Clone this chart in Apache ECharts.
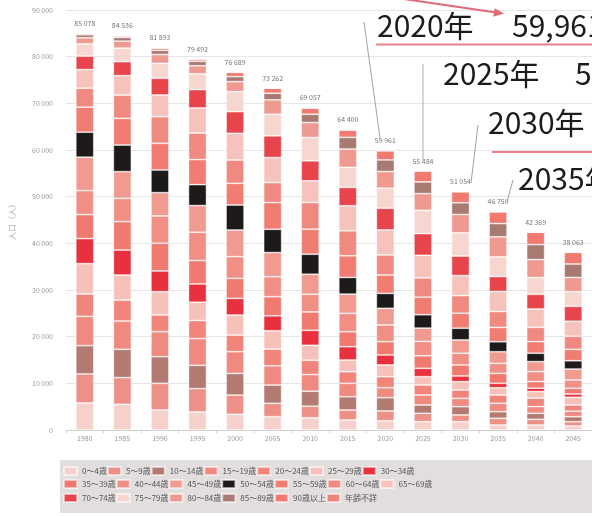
<!DOCTYPE html>
<html><head><meta charset="utf-8">
<script src="https://cdn.jsdelivr.net/npm/echarts@6/dist/echarts.min.js"></script>
<style>html,body{margin:0;padding:0;background:#fff}#c{width:592px;height:516px}</style>
</head><body><div id="c"></div>
<script>
const years = ['1980','1985','1990','1995','2000','2005','2010','2015','2020','2025','2030','2035','2040','2045'];
const ageGroups = ['0～4歳','5～9歳','10～14歳','15～19歳','20～24歳','25～29歳','30～34歳',
  '35～39歳','40～44歳','45～49歳','50～54歳','55～59歳','60～64歳','65～69歳',
  '70～74歳','75～79歳','80～84歳','85～89歳','90歳以上','年齢不詳'];
const totals = [85078, 84536, 81893, 79492, 76689, 73262, 69057, 64400, 59961, 55484, 51054, 46750, 42369, 38063];
const yTicks = [0,10000,20000,30000,40000,50000,60000,70000,80000,90000];

const age0_4   = [5800, 5510, 4290, 3880, 3360, 2850, 2610, 2140, 1980, 1780, 1780, 1070, 1070, 860];
const age5_9   = [6210, 5720, 5720, 4990, 4119, 2870, 2490, 2140, 2100, 1800, 1440, 1440, 1220, 920];
const age10_14 = [6060, 6060, 5700, 4990, 4650, 3920, 3210, 2850, 2850, 1780, 1780, 1410, 1290, 1070];
const age15_19 = [6280, 6060, 5360, 5720, 4650, 4120, 3580, 2870, 2140, 2140, 1780, 1800, 1440, 1180];
const age20_24 = [4800, 4490, 3580, 3880, 3560, 3580, 3050, 2490, 2361, 2140, 1800, 1780, 1800, 1330];
const age25_29 = [6500, 5360, 4990, 3920, 4290, 3920, 3210, 2510, 2510, 1780, 1780, 1560, 1410, 1650];
const age30_34 = [5360, 5360, 4440, 3920, 3580, 3210, 3210, 2850, 2140, 1800, 1220, 940, 730, 710];
const age35_39 = [5150, 6090, 5940, 5010, 4290, 4090, 3940, 3210, 2850, 2690, 2360, 2140, 1410, 1220];
const age40_44 = [5140, 4990, 5850, 6060, 4650, 4290, 3787, 3940, 3580, 3070, 2510, 2140, 2140, 1780];
const age45_49 = [7160, 5720, 4990, 5720, 5700, 5170, 4290, 4120, 3560, 2850, 2850, 2490, 2140, 2340];
const age50_54 = [5360, 5700, 4860, 4490, 5360, 4990, 4290, 3580, 3210, 2870, 2510, 2140, 1800, 1780];
const age55_59 = [5360, 5720, 5720, 5360, 4650, 5720, 5360, 4630, 3940, 3760, 3210, 3070, 2490, 2440];
const age60_64 = [4070, 4990, 5700, 5700, 4990, 4290, 5720, 5360, 4290, 4140, 3780, 3410, 3070, 2810];
const age65_69 = [3990, 4160, 4650, 5360, 5720, 5360, 4650, 5360, 5360, 4830, 4290, 4290, 3920, 3210];
const age70_74 = [2870, 3000, 3580, 3940, 4650, 4650, 4290, 3940, 4650, 4650, 4184, 3210, 3150, 3210];
const age75_79 = [2640, 2900, 3193, 3402, 4290, 4630, 4990, 4290, 4290, 4990, 4990, 4210, 3580, 3143];
const age80_84 = [1300, 1500, 1900, 1710, 2140, 3090, 3210, 3920, 3580, 3580, 3920, 4290, 3859, 3050];
const age85_89 = [650, 800, 900, 960, 1070, 1410, 1780, 2510, 2490, 2510, 2510, 2850, 3210, 2870];
const age90plus = [250, 300, 450, 430, 920, 1070, 1290, 1540, 1930, 2324, 2360, 2510, 2640, 2490];
const ageUnknown = [128, 106, 80, 50, 50, 32, 100, 150, 150, 0, 0, 0, 0, 0];

const ageData = [age0_4, age5_9, age10_14, age15_19, age20_24, age25_29, age30_34, age35_39, age40_44,
  age45_49, age50_54, age55_59, age60_64, age65_69, age70_74, age75_79, age80_84, age85_89, age90plus, ageUnknown];

const colors = ['#f6d0ca','#ec9088','#b27a70','#f0897f','#f1857b','#f5c1b9','#e8303e',
  '#f07a70','#f28f85','#f09a90','#1e1a1a','#f07c72','#f08a80','#f5c3bb',
  '#e8444c','#f8d6d0','#ee9a90','#a87a72','#f07a70','#f08478'];

const FONT = '"Noto Sans CJK JP", "Noto Sans", sans-serif';
const fmt = v => String(v).replace(/\B(?=(\d{3})+(?!\d))/g, ' ');

const chart = echarts.init(document.getElementById('c'), null, {renderer: 'canvas'});

const series = ageGroups.map((name, i) => ({
  name, type: 'bar', stack: 'pop', barWidth: 18, data: ageData[i],
  itemStyle: {color: colors[i], borderColor: 'rgba(255,255,255,0.55)', borderWidth: 0.8},
  emphasis: {disabled: true}, animation: false
}));
series.push({
  name: '総数', type: 'line', data: totals, symbol: 'circle', symbolSize: 1,
  itemStyle: {color: 'rgba(0,0,0,0)'}, lineStyle: {width: 0, opacity: 0},
  label: {show: true, position: 'top', distance: 6, formatter: p => fmt(p.value),
    fontSize: 7, color: '#777', fontFamily: FONT},
  z: 10, silent: true, animation: false
});

const legendBase = {
  orient: 'horizontal', icon: 'rect', itemWidth: 13, itemHeight: 8, itemGap: 0,
  selectedMode: false, left: 63, padding: 0
};
const legend = [
  Object.assign({}, legendBase, {data: ageGroups.slice(0, 7), top: 466,
    textStyle: {fontSize: 8, color: '#555', fontFamily: FONT, width: 54, overflow: 'truncate'}}),
  Object.assign({}, legendBase, {data: ageGroups.slice(7, 14), top: 479,
    textStyle: {fontSize: 8, color: '#555', fontFamily: FONT, width: 57, overflow: 'truncate'}}),
  Object.assign({}, legendBase, {data: ageGroups.slice(14), top: 493,
    textStyle: {fontSize: 8, color: '#555', fontFamily: FONT, width: 57, overflow: 'truncate'}})
];

const annFont = '30px "Noto Sans CJK JP"';
const txt = (x, y, s) => ({type: 'text', x, y, z: 100,
  style: {text: s, font: annFont, fill: '#1c1c1c', textVerticalAlign: 'middle', verticalAlign: 'middle', align: 'left'}});
const ln = (x1, y1, x2, y2, c, w) => ({type: 'line', z: 99,
  shape: {x1, y1, x2, y2}, style: {stroke: c, lineWidth: w}});

const graphic = [
  {type: 'rect', z: -10, shape: {x: 60, y: 460, width: 540, height: 53}, style: {fill: '#e2dede'}},
  ln(404, -1, 496, 12.5, '#e06a78', 2),
  {type: 'polygon', z: 100, shape: {points: [[504, 13.6], [494.7, 8.3], [493.3, 16.8]]}, style: {fill: '#e06a78'}},
  txt(377, 26, '2020年'), txt(512, 26, '59,961'),
  ln(376, 44.5, 600, 44.5, '#e5808c', 2),
  ln(364, 22, 380, 138, '#888', 0.8),
  txt(443, 74, '2025年'), txt(575, 74, '55,484'),
  ln(423, 64, 423, 160, '#999', 0.8),
  txt(488, 123, '2030年'),
  ln(492, 152, 600, 152, '#e5808c', 2),
  ln(478, 125, 471, 183, '#888', 0.8),
  txt(518, 179, '2035年'),
  ln(513, 180, 507, 202, '#888', 0.8)
];

chart.setOption({
  animation: false,
  textStyle: {fontFamily: FONT},
  grid: {left: 64, top: 10, width: 532, height: 420},
  legend,
  graphic,
  xAxis: {
    type: 'category', data: years,
    axisLine: {lineStyle: {color: '#cfcfcf'}},
    axisTick: {show: true, length: 3, lineStyle: {color: '#cfcfcf'}},
    axisLabel: {fontSize: 7, color: '#999', margin: 5, fontFamily: FONT}
  },
  yAxis: {
    type: 'value', min: 0, max: 90000, interval: 10000,
    name: '人口（人）', nameLocation: 'middle', nameGap: 50, nameRotate: 90,
    nameTextStyle: {fontSize: 8, color: '#aaa', fontFamily: FONT},
    axisLine: {show: false}, axisTick: {show: false},
    axisLabel: {fontSize: 7, color: '#999', margin: 13, fontFamily: FONT,
      formatter: v => yTicks.includes(v) ? fmt(v) : ''},
    splitLine: {lineStyle: {color: '#e6e6e6', width: 1}}
  },
  series
});
</script>
</body></html>
